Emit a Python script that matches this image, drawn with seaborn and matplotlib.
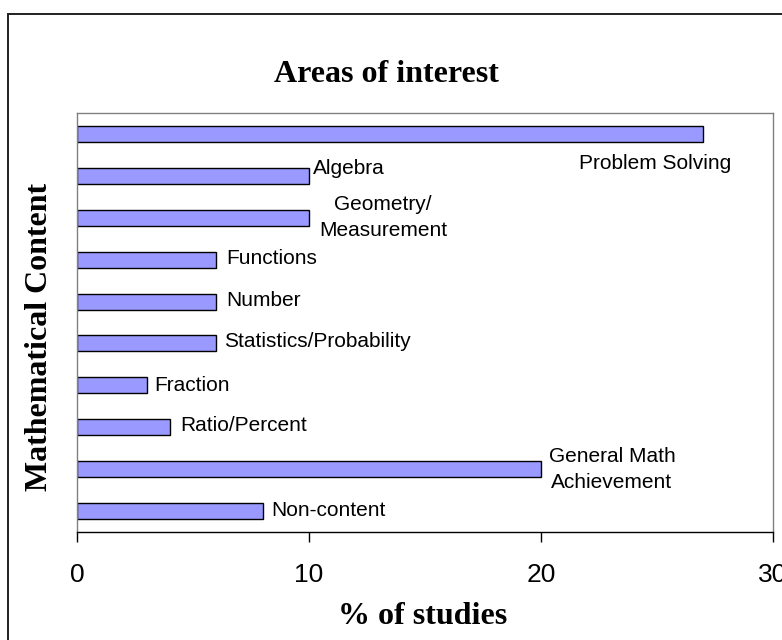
import matplotlib
matplotlib.use("Agg")
import matplotlib.pyplot as plt
from matplotlib.patches import Rectangle
import seaborn as sns
import pandas as pd

categories = ["Problem Solving", "Algebra", "Geometry/\nMeasurement", "Functions",
              "Number", "Statistics/Probability", "Fraction", "Ratio/Percent",
              "General Math\nAchievement", "Non-content"]
values = [27, 10, 10, 6, 6, 6, 3, 4, 20, 8]
xticks = [0, 10, 20, 30]
title = "Areas of interest"
xlabel = "% of studies"
ylabel = "Mathematical Content"

df = pd.DataFrame({"cat": categories, "val": values})

sns.set_style("white")
plt.rcParams["font.family"] = ["Liberation Sans", "DejaVu Sans"]
plt.rcParams["text.color"] = "black"
plt.rcParams["xtick.color"] = "black"
plt.rcParams["xtick.labelcolor"] = "black"

fig = plt.figure(figsize=(7.82, 6.4), dpi=100)
ax = fig.add_axes([77/782, 1-532/640, (773-77)/782, (532-113)/640])

sns.barplot(data=df, x="val", y="cat", orient="h", color="#9999FF",
            edgecolor="black", linewidth=1.0, width=0.38, saturation=1, ax=ax)

ax.set_xlim(0, 30)
ax.set_ylim(9.5, -0.5)
ax.set_xticks(xticks)
ax.set_xticklabels([str(t) for t in xticks], fontsize=19, color="black")
ax.set_yticks([])
ax.set_xlabel("")
ax.set_ylabel("")
ax.tick_params(axis="x", direction="out", length=7.5, width=1, color="black",
               pad=15, bottom=True)
for s in ["left", "top", "right"]:
    ax.spines[s].set_color("#808080")
    ax.spines[s].set_linewidth(1)
ax.spines["bottom"].set_color("black")
ax.spines["bottom"].set_linewidth(1)

# label offsets in pixels relative to bar end / bar center
offsets = [(-48, -30, "center"), (4, 7, "left"), (74, 0, "center"), (10, 1, "left"),
           (10, 1, "left"), (8, 2, "left"), (8, 0, "left"), (10, 2, "left"),
           (71, 0, "center"), (9, 1, "left")]
for i, (cat, v) in enumerate(zip(categories, values)):
    dx, dy, ha = offsets[i]
    ax.annotate(cat, xy=(v, i), xytext=(dx, dy), textcoords="offset pixels",
                ha=ha, va="center", fontsize=15, multialignment="center",
                linespacing=1.45, annotation_clip=False, color="black")

serif = ["Liberation Serif", "DejaVu Serif"]
fig.text(386/782, 1-75/640, title, ha="center", va="center", fontsize=23,
         fontweight="bold", family=serif, color="black")
fig.text(423/782, 1-617/640, xlabel, ha="center", va="center", fontsize=23,
         fontweight="bold", family=serif, color="black")
fig.text(40/782, 1-337/640, ylabel, ha="center", va="center", fontsize=23,
         fontweight="bold", family=serif, rotation=90, color="black")

fig.add_artist(Rectangle((8/782, -0.1), 1.2, 1.1 - 14/640, transform=fig.transFigure,
                         fill=False, edgecolor="#202020", linewidth=1.4))

fig.savefig("out.png", dpi=100)
